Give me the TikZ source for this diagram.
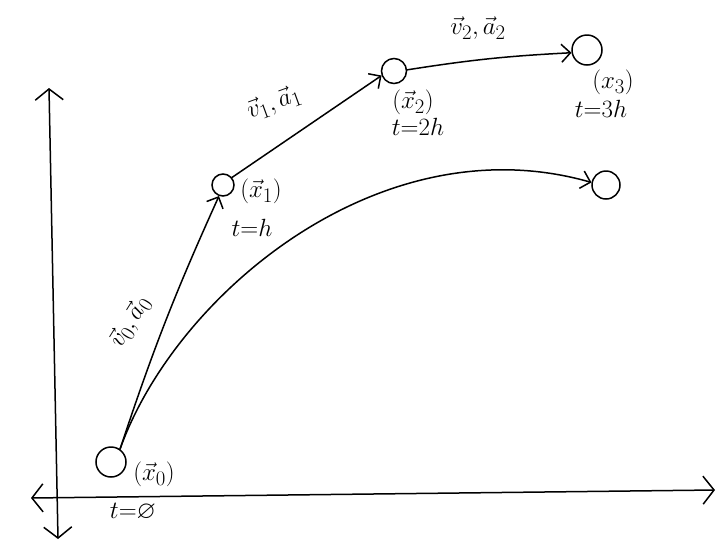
\documentclass[tikz,border=0pt]{standalone}
\usepackage{amssymb}
\usetikzlibrary{arrows.meta}
\begin{document}
\begin{tikzpicture}[x=1pt,y=-1pt,
  pen/.style={line width=1.5pt,line cap=round,line join=round},
  arr/.style={pen,-{Straight Barb[length=9pt,width=18pt,line width=1.5pt]}},
  axarr/.style={pen,{Straight Barb[length=11pt,width=28pt,line width=1.5pt]}-{Straight Barb[length=11pt,width=28pt,line width=1.5pt]}},
  posdot/.style={draw,circle,line width=1.5pt,inner sep=0pt},
  lbl/.style={font=\Huge,inner sep=1pt}]
\path[use as bounding box,fill=white] (0,0) rectangle (716,542);
% axes
\coordinate (ytop) at (49,88);
\coordinate (ybot) at (58,539);
\coordinate (xleft) at (31,498);
\coordinate (xright) at (715,490);
\draw[axarr] (ybot) -- (ytop);
\draw[axarr] (xleft) -- (xright);
% positions
\node[posdot,minimum size=30pt] (x0) at (111,462) {};
\node[posdot,minimum size=22pt] (x1) at (223,185) {};
\node[posdot,minimum size=25pt] (x2) at (394,71) {};
\node[posdot,minimum size=30pt] (x3) at (587,50) {};
\node[posdot,minimum size=28pt] (xe) at (606,185) {};
% connectors
\draw[arr] (x0.55) to[bend left=3] (x1.250);
\draw[arr] (x1.40) -- (x2.200);
\draw[arr] (x2.5) to[bend left=3] (x3.190);
\draw[arr] (x0.55) .. controls (175,295) and (380,122) .. (xe.170);
% labels
\node[lbl] (l0) at (154,474) {$(\vec{x}_0)$};
\node[lbl] (t0) at (133,512) {$t{=}\varnothing$};
\node[lbl,rotate=58] (va0) at (130,322) {$\vec{v}_0,\vec{a}_0$};
\node[lbl] (l1) at (261,191) {$(\vec{x}_1)$};
\node[lbl] (t1) at (252,228) {$t{=}h$};
\node[lbl,rotate=20] (va1) at (274,103) {$\vec{v}_1,\vec{a}_1$};
\node[lbl] (l2) at (413,102) {$(\vec{x}_2)$};
\node[lbl] (t2) at (418,127) {$t{=}2h$};
\node[lbl] (va2) at (478,28) {$\vec{v}_2,\vec{a}_2$};
\node[lbl] (l3) at (613,82) {$(x_3)$};
\node[lbl] (t3) at (601,109) {$t{=}3h$};
\end{tikzpicture}
\end{document}
